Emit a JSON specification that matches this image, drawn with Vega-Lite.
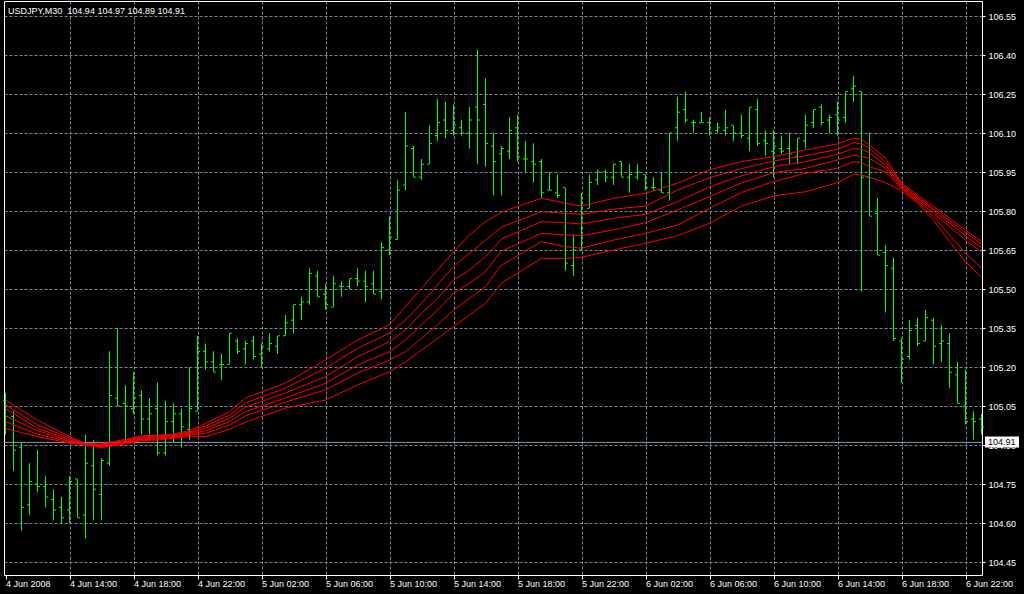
{
"$schema": "https://vega.github.io/schema/vega-lite/v6.json",
"width": 978,
"height": 574,
"autosize": {"type": "none"},
"padding": {"left": 4, "top": 1, "right": 42, "bottom": 19},
"background": "#000000",
"config": {"view": {"stroke": "#ffffff", "strokeWidth": 1, "fill": "#000000"}, "font": "Liberation Sans"},
"title": {"text": "USDJPY,M30\u00a0 104.94 104.97 104.89 104.91", "anchor": "start", "frame": "group", "orient": "none", "dy": 13, "dx": 4, "baseline": "alphabetic", "align": "left", "color": "#ffffff", "font": "Liberation Sans", "fontSize": 9, "fontWeight": "normal"},
"datasets": {
"bars": [
{"t":"2008-06-04T10:00:00Z","o":105.07,"h":105.10,"l":104.94,"c":105.01},
{"t":"2008-06-04T10:30:00Z","o":105.01,"h":105.03,"l":104.80,"c":104.88},
{"t":"2008-06-04T11:00:00Z","o":104.89,"h":104.91,"l":104.57,"c":104.66},
{"t":"2008-06-04T11:30:00Z","o":104.67,"h":104.83,"l":104.63,"c":104.76},
{"t":"2008-06-04T12:00:00Z","o":104.75,"h":104.88,"l":104.72,"c":104.74},
{"t":"2008-06-04T12:30:00Z","o":104.74,"h":104.78,"l":104.66,"c":104.70},
{"t":"2008-06-04T13:00:00Z","o":104.69,"h":104.73,"l":104.61,"c":104.65},
{"t":"2008-06-04T13:30:00Z","o":104.66,"h":104.70,"l":104.60,"c":104.62},
{"t":"2008-06-04T14:00:00Z","o":104.65,"h":104.78,"l":104.60,"c":104.76},
{"t":"2008-06-04T14:30:00Z","o":104.77,"h":104.77,"l":104.62,"c":104.62},
{"t":"2008-06-04T15:00:00Z","o":104.63,"h":104.94,"l":104.54,"c":104.83},
{"t":"2008-06-04T15:30:00Z","o":104.82,"h":104.92,"l":104.61,"c":104.73},
{"t":"2008-06-04T16:00:00Z","o":104.71,"h":104.85,"l":104.61,"c":104.84},
{"t":"2008-06-04T16:30:00Z","o":104.83,"h":105.26,"l":104.82,"c":105.09},
{"t":"2008-06-04T17:00:00Z","o":105.08,"h":105.35,"l":105.05,"c":105.05},
{"t":"2008-06-04T17:30:00Z","o":105.06,"h":105.13,"l":104.91,"c":105.05},
{"t":"2008-06-04T18:00:00Z","o":105.04,"h":105.18,"l":105.02,"c":105.08},
{"t":"2008-06-04T18:30:00Z","o":105.09,"h":105.11,"l":104.94,"c":105.00},
{"t":"2008-06-04T19:00:00Z","o":105.00,"h":105.08,"l":104.94,"c":105.02},
{"t":"2008-06-04T19:30:00Z","o":105.04,"h":105.14,"l":104.86,"c":104.87},
{"t":"2008-06-04T20:00:00Z","o":104.87,"h":105.07,"l":104.86,"c":104.99},
{"t":"2008-06-04T20:30:00Z","o":104.99,"h":105.06,"l":104.91,"c":105.02},
{"t":"2008-06-04T21:00:00Z","o":105.02,"h":105.04,"l":104.89,"c":104.97},
{"t":"2008-06-04T21:30:00Z","o":104.96,"h":105.20,"l":104.92,"c":105.04},
{"t":"2008-06-04T22:00:00Z","o":105.03,"h":105.32,"l":105.03,"c":105.26},
{"t":"2008-06-04T22:30:00Z","o":105.26,"h":105.29,"l":105.19,"c":105.22},
{"t":"2008-06-04T23:00:00Z","o":105.22,"h":105.26,"l":105.18,"c":105.18},
{"t":"2008-06-04T23:30:00Z","o":105.21,"h":105.25,"l":105.15,"c":105.21},
{"t":"2008-06-05T00:00:00Z","o":105.21,"h":105.33,"l":105.21,"c":105.33},
{"t":"2008-06-05T00:30:00Z","o":105.30,"h":105.31,"l":105.25,"c":105.26},
{"t":"2008-06-05T01:00:00Z","o":105.27,"h":105.30,"l":105.21,"c":105.29},
{"t":"2008-06-05T01:30:00Z","o":105.30,"h":105.32,"l":105.23,"c":105.24},
{"t":"2008-06-05T02:00:00Z","o":105.25,"h":105.29,"l":105.20,"c":105.28},
{"t":"2008-06-05T02:30:00Z","o":105.27,"h":105.33,"l":105.26,"c":105.29},
{"t":"2008-06-05T03:00:00Z","o":105.28,"h":105.32,"l":105.25,"c":105.32},
{"t":"2008-06-05T03:30:00Z","o":105.32,"h":105.40,"l":105.32,"c":105.37},
{"t":"2008-06-05T04:00:00Z","o":105.38,"h":105.44,"l":105.33,"c":105.44},
{"t":"2008-06-05T04:30:00Z","o":105.44,"h":105.47,"l":105.38,"c":105.45},
{"t":"2008-06-05T05:00:00Z","o":105.45,"h":105.58,"l":105.44,"c":105.56},
{"t":"2008-06-05T05:30:00Z","o":105.55,"h":105.57,"l":105.47,"c":105.47},
{"t":"2008-06-05T06:00:00Z","o":105.48,"h":105.52,"l":105.42,"c":105.44},
{"t":"2008-06-05T06:30:00Z","o":105.43,"h":105.55,"l":105.43,"c":105.52},
{"t":"2008-06-05T07:00:00Z","o":105.51,"h":105.53,"l":105.47,"c":105.51},
{"t":"2008-06-05T07:30:00Z","o":105.51,"h":105.54,"l":105.50,"c":105.54},
{"t":"2008-06-05T08:00:00Z","o":105.54,"h":105.58,"l":105.51,"c":105.53},
{"t":"2008-06-05T08:30:00Z","o":105.53,"h":105.57,"l":105.45,"c":105.51},
{"t":"2008-06-05T09:00:00Z","o":105.52,"h":105.57,"l":105.48,"c":105.48},
{"t":"2008-06-05T09:30:00Z","o":105.49,"h":105.68,"l":105.46,"c":105.66},
{"t":"2008-06-05T10:00:00Z","o":105.65,"h":105.78,"l":105.63,"c":105.70},
{"t":"2008-06-05T10:30:00Z","o":105.69,"h":105.92,"l":105.69,"c":105.88},
{"t":"2008-06-05T11:00:00Z","o":105.90,"h":106.18,"l":105.88,"c":106.05},
{"t":"2008-06-05T11:30:00Z","o":106.04,"h":106.05,"l":105.93,"c":105.93},
{"t":"2008-06-05T12:00:00Z","o":105.93,"h":106.00,"l":105.92,"c":105.98},
{"t":"2008-06-05T12:30:00Z","o":105.98,"h":106.13,"l":105.98,"c":106.06},
{"t":"2008-06-05T13:00:00Z","o":106.09,"h":106.23,"l":106.07,"c":106.14},
{"t":"2008-06-05T13:30:00Z","o":106.15,"h":106.22,"l":106.08,"c":106.11},
{"t":"2008-06-05T14:00:00Z","o":106.11,"h":106.21,"l":106.09,"c":106.13},
{"t":"2008-06-05T14:30:00Z","o":106.12,"h":106.15,"l":106.09,"c":106.10},
{"t":"2008-06-05T15:00:00Z","o":106.10,"h":106.20,"l":106.04,"c":106.15},
{"t":"2008-06-05T15:30:00Z","o":106.20,"h":106.42,"l":105.98,"c":106.15},
{"t":"2008-06-05T16:00:00Z","o":106.21,"h":106.31,"l":105.97,"c":106.06},
{"t":"2008-06-05T16:30:00Z","o":106.05,"h":106.10,"l":105.86,"c":105.99},
{"t":"2008-06-05T17:00:00Z","o":106.02,"h":106.05,"l":105.86,"c":106.04},
{"t":"2008-06-05T17:30:00Z","o":106.03,"h":106.16,"l":106.00,"c":106.11},
{"t":"2008-06-05T18:00:00Z","o":106.12,"h":106.17,"l":105.99,"c":106.01},
{"t":"2008-06-05T18:30:00Z","o":106.00,"h":106.07,"l":105.95,"c":106.00},
{"t":"2008-06-05T19:00:00Z","o":105.99,"h":106.06,"l":105.91,"c":105.98},
{"t":"2008-06-05T19:30:00Z","o":105.99,"h":106.00,"l":105.85,"c":105.87},
{"t":"2008-06-05T20:00:00Z","o":105.88,"h":105.95,"l":105.88,"c":105.88},
{"t":"2008-06-05T20:30:00Z","o":105.87,"h":105.94,"l":105.85,"c":105.86},
{"t":"2008-06-05T21:00:00Z","o":105.89,"h":105.89,"l":105.57,"c":105.60},
{"t":"2008-06-05T21:30:00Z","o":105.59,"h":105.71,"l":105.55,"c":105.65},
{"t":"2008-06-05T22:00:00Z","o":105.65,"h":105.87,"l":105.65,"c":105.79},
{"t":"2008-06-05T22:30:00Z","o":105.81,"h":105.94,"l":105.81,"c":105.91},
{"t":"2008-06-05T23:00:00Z","o":105.92,"h":105.96,"l":105.90,"c":105.95},
{"t":"2008-06-05T23:30:00Z","o":105.95,"h":105.96,"l":105.91,"c":105.93},
{"t":"2008-06-06T00:00:00Z","o":105.93,"h":105.98,"l":105.90,"c":105.98},
{"t":"2008-06-06T00:30:00Z","o":105.99,"h":105.99,"l":105.93,"c":105.93},
{"t":"2008-06-06T01:00:00Z","o":105.93,"h":105.98,"l":105.87,"c":105.94},
{"t":"2008-06-06T01:30:00Z","o":105.93,"h":105.98,"l":105.92,"c":105.95},
{"t":"2008-06-06T02:00:00Z","o":105.94,"h":105.94,"l":105.88,"c":105.89},
{"t":"2008-06-06T02:30:00Z","o":105.89,"h":105.93,"l":105.88,"c":105.89},
{"t":"2008-06-06T03:00:00Z","o":105.88,"h":105.95,"l":105.87,"c":105.87},
{"t":"2008-06-06T03:30:00Z","o":105.87,"h":106.10,"l":105.84,"c":106.10},
{"t":"2008-06-06T04:00:00Z","o":106.12,"h":106.24,"l":106.07,"c":106.18},
{"t":"2008-06-06T04:30:00Z","o":106.19,"h":106.26,"l":106.14,"c":106.15},
{"t":"2008-06-06T05:00:00Z","o":106.14,"h":106.15,"l":106.10,"c":106.14},
{"t":"2008-06-06T05:30:00Z","o":106.14,"h":106.18,"l":106.14,"c":106.14},
{"t":"2008-06-06T06:00:00Z","o":106.14,"h":106.16,"l":106.09,"c":106.10},
{"t":"2008-06-06T06:30:00Z","o":106.11,"h":106.14,"l":106.10,"c":106.12},
{"t":"2008-06-06T07:00:00Z","o":106.11,"h":106.19,"l":106.09,"c":106.12},
{"t":"2008-06-06T07:30:00Z","o":106.13,"h":106.13,"l":106.07,"c":106.10},
{"t":"2008-06-06T08:00:00Z","o":106.10,"h":106.17,"l":106.08,"c":106.09},
{"t":"2008-06-06T08:30:00Z","o":106.08,"h":106.20,"l":106.03,"c":106.20},
{"t":"2008-06-06T09:00:00Z","o":106.19,"h":106.23,"l":106.05,"c":106.06},
{"t":"2008-06-06T09:30:00Z","o":106.07,"h":106.11,"l":106.01,"c":106.06},
{"t":"2008-06-06T10:00:00Z","o":106.03,"h":106.11,"l":105.93,"c":106.05},
{"t":"2008-06-06T10:30:00Z","o":106.04,"h":106.09,"l":106.02,"c":106.03},
{"t":"2008-06-06T11:00:00Z","o":106.04,"h":106.10,"l":105.98,"c":106.02},
{"t":"2008-06-06T11:30:00Z","o":106.01,"h":106.08,"l":105.98,"c":106.08},
{"t":"2008-06-06T12:00:00Z","o":106.07,"h":106.17,"l":106.04,"c":106.13},
{"t":"2008-06-06T12:30:00Z","o":106.14,"h":106.19,"l":106.12,"c":106.19},
{"t":"2008-06-06T13:00:00Z","o":106.20,"h":106.21,"l":106.13,"c":106.14},
{"t":"2008-06-06T13:30:00Z","o":106.15,"h":106.17,"l":106.10,"c":106.16},
{"t":"2008-06-06T14:00:00Z","o":106.17,"h":106.22,"l":106.09,"c":106.15},
{"t":"2008-06-06T14:30:00Z","o":106.16,"h":106.26,"l":106.14,"c":106.26},
{"t":"2008-06-06T15:00:00Z","o":106.27,"h":106.32,"l":106.22,"c":106.28},
{"t":"2008-06-06T15:30:00Z","o":106.26,"h":106.26,"l":105.49,"c":105.93},
{"t":"2008-06-06T16:00:00Z","o":105.93,"h":106.10,"l":105.78,"c":105.78},
{"t":"2008-06-06T16:30:00Z","o":105.79,"h":105.85,"l":105.63,"c":105.63},
{"t":"2008-06-06T17:00:00Z","o":105.64,"h":105.67,"l":105.41,"c":105.59},
{"t":"2008-06-06T17:30:00Z","o":105.58,"h":105.62,"l":105.30,"c":105.31},
{"t":"2008-06-06T18:00:00Z","o":105.30,"h":105.31,"l":105.14,"c":105.23},
{"t":"2008-06-06T18:30:00Z","o":105.24,"h":105.38,"l":105.23,"c":105.34},
{"t":"2008-06-06T19:00:00Z","o":105.36,"h":105.39,"l":105.28,"c":105.29},
{"t":"2008-06-06T19:30:00Z","o":105.30,"h":105.42,"l":105.30,"c":105.39},
{"t":"2008-06-06T20:00:00Z","o":105.38,"h":105.39,"l":105.21,"c":105.28},
{"t":"2008-06-06T20:30:00Z","o":105.29,"h":105.36,"l":105.22,"c":105.30},
{"t":"2008-06-06T21:00:00Z","o":105.29,"h":105.33,"l":105.12,"c":105.18},
{"t":"2008-06-06T21:30:00Z","o":105.17,"h":105.22,"l":105.06,"c":105.06},
{"t":"2008-06-06T22:00:00Z","o":105.05,"h":105.19,"l":104.98,"c":104.99},
{"t":"2008-06-06T22:30:00Z","o":105.00,"h":105.03,"l":104.92,"c":104.99},
{"t":"2008-06-06T23:00:00Z","o":105.00,"h":105.02,"l":104.94,"c":104.97}
],
"ma": [
{"t":"2008-06-04T10:00:00Z","a":105.073,"b":105.054,"c":105.040,"d":105.012,"e":104.990,"f":104.964},
{"t":"2008-06-04T12:00:00Z","a":104.996,"b":104.977,"c":104.964,"d":104.955,"e":104.942,"f":104.932},
{"t":"2008-06-04T14:00:00Z","a":104.932,"b":104.927,"c":104.921,"d":104.915,"e":104.912,"f":104.908},
{"t":"2008-06-04T15:00:00Z","a":104.906,"b":104.904,"c":104.903,"d":104.902,"e":104.900,"f":104.899},
{"t":"2008-06-04T16:00:00Z","a":104.904,"b":104.901,"c":104.899,"d":104.896,"e":104.893,"f":104.890},
{"t":"2008-06-04T17:30:00Z","a":104.922,"b":104.918,"c":104.914,"d":104.911,"e":104.908,"f":104.904},
{"t":"2008-06-04T18:30:00Z","a":104.935,"b":104.931,"c":104.927,"d":104.923,"e":104.920,"f":104.917},
{"t":"2008-06-04T19:30:00Z","a":104.938,"b":104.935,"c":104.931,"d":104.927,"e":104.923,"f":104.919},
{"t":"2008-06-04T20:30:00Z","a":104.942,"b":104.939,"c":104.935,"d":104.932,"e":104.929,"f":104.926},
{"t":"2008-06-04T21:30:00Z","a":104.955,"b":104.950,"c":104.946,"d":104.941,"e":104.937,"f":104.932},
{"t":"2008-06-04T22:30:00Z","a":104.983,"b":104.973,"c":104.964,"d":104.955,"e":104.945,"f":104.932},
{"t":"2008-06-05T00:00:00Z","a":105.028,"b":105.015,"c":105.003,"d":104.990,"e":104.977,"f":104.960},
{"t":"2008-06-05T01:00:00Z","a":105.081,"b":105.062,"c":105.046,"d":105.029,"e":105.012,"f":104.988},
{"t":"2008-06-05T03:30:00Z","a":105.138,"b":105.119,"c":105.100,"d":105.081,"e":105.065,"f":105.042},
{"t":"2008-06-05T06:00:00Z","a":105.227,"b":105.195,"c":105.163,"d":105.137,"e":105.112,"f":105.073},
{"t":"2008-06-05T08:00:00Z","a":105.304,"b":105.272,"c":105.240,"d":105.208,"e":105.176,"f":105.131},
{"t":"2008-06-05T10:00:00Z","a":105.362,"b":105.330,"c":105.297,"d":105.259,"e":105.227,"f":105.182},
{"t":"2008-06-05T11:00:00Z","a":105.432,"b":105.381,"c":105.342,"d":105.304,"e":105.259,"f":105.220},
{"t":"2008-06-05T12:00:00Z","a":105.503,"b":105.445,"c":105.407,"d":105.362,"e":105.310,"f":105.265},
{"t":"2008-06-05T13:00:00Z","a":105.573,"b":105.515,"c":105.464,"d":105.419,"e":105.362,"f":105.310},
{"t":"2008-06-05T14:00:00Z","a":105.643,"b":105.586,"c":105.535,"d":105.483,"e":105.419,"f":105.355},
{"t":"2008-06-05T15:00:00Z","a":105.708,"b":105.637,"c":105.573,"d":105.522,"e":105.464,"f":105.400},
{"t":"2008-06-05T16:00:00Z","a":105.759,"b":105.688,"c":105.624,"d":105.567,"e":105.509,"f":105.445},
{"t":"2008-06-05T17:00:00Z","a":105.796,"b":105.738,"c":105.692,"d":105.646,"e":105.592,"f":105.523},
{"t":"2008-06-05T19:30:00Z","a":105.849,"b":105.797,"c":105.759,"d":105.714,"e":105.682,"f":105.618},
{"t":"2008-06-05T21:00:00Z","a":105.830,"b":105.791,"c":105.755,"d":105.708,"e":105.663,"f":105.618},
{"t":"2008-06-05T22:00:00Z","a":105.819,"b":105.787,"c":105.750,"d":105.705,"e":105.657,"f":105.622},
{"t":"2008-06-06T00:00:00Z","a":105.849,"b":105.807,"c":105.772,"d":105.727,"e":105.688,"f":105.650},
{"t":"2008-06-06T02:00:00Z","a":105.868,"b":105.819,"c":105.787,"d":105.755,"e":105.714,"f":105.676},
{"t":"2008-06-06T04:00:00Z","a":105.907,"b":105.881,"c":105.836,"d":105.804,"e":105.746,"f":105.705},
{"t":"2008-06-06T06:00:00Z","a":105.958,"b":105.928,"c":105.893,"d":105.855,"e":105.810,"f":105.753},
{"t":"2008-06-06T08:00:00Z","a":105.990,"b":105.963,"c":105.935,"d":105.908,"e":105.871,"f":105.819},
{"t":"2008-06-06T10:00:00Z","a":106.009,"b":105.992,"c":105.970,"d":105.947,"e":105.913,"f":105.858},
{"t":"2008-06-06T12:00:00Z","a":106.035,"b":106.013,"c":105.990,"d":105.964,"e":105.945,"f":105.874},
{"t":"2008-06-06T14:00:00Z","a":106.058,"b":106.037,"c":106.018,"d":105.996,"e":105.964,"f":105.909},
{"t":"2008-06-06T15:00:00Z","a":106.080,"b":106.063,"c":106.041,"d":106.015,"e":105.990,"f":105.941},
{"t":"2008-06-06T15:30:00Z","a":106.076,"b":106.058,"c":106.037,"d":106.009,"e":105.986,"f":105.938},
{"t":"2008-06-06T16:00:00Z","a":106.054,"b":106.041,"c":106.024,"d":106.003,"e":105.970,"f":105.930},
{"t":"2008-06-06T17:00:00Z","a":106.003,"b":105.990,"c":105.977,"d":105.964,"e":105.951,"f":105.909},
{"t":"2008-06-06T18:00:00Z","a":105.908,"b":105.902,"c":105.896,"d":105.890,"e":105.885,"f":105.878},
{"t":"2008-06-06T19:00:00Z","a":105.862,"b":105.855,"c":105.849,"d":105.842,"e":105.836,"f":105.830},
{"t":"2008-06-06T20:00:00Z","a":105.817,"b":105.808,"c":105.801,"d":105.791,"e":105.778,"f":105.765},
{"t":"2008-06-06T21:00:00Z","a":105.772,"b":105.763,"c":105.753,"d":105.740,"e":105.708,"f":105.682},
{"t":"2008-06-06T22:00:00Z","a":105.727,"b":105.717,"c":105.705,"d":105.688,"e":105.637,"f":105.605},
{"t":"2008-06-06T23:00:00Z","a":105.682,"b":105.672,"c":105.659,"d":105.643,"e":105.580,"f":105.545}
],
"bid": [{"t":"2008-06-06T23:00:00Z","bid":104.91,"label":"104.91"}]
},
"layer": [
{
"data": {"name": "bars"},
"mark": {"type": "rule", "color": "#00ff00", "strokeWidth": 1},
"encoding": {
"x": {"field": "t", "type": "temporal", "title": null,
"scale": {"type": "utc", "domain": [1212573262500, 1212793312500], "nice": false},
"axis": {"orient": "bottom", "domain": false,
"values": [1212573600000,1212580800000,1212588000000,1212595200000,1212602400000,1212609600000,1212616800000,1212624000000,1212631200000,1212638400000,1212645600000,1212652800000,1212660000000,1212667200000,1212674400000,1212681600000,1212688800000,1212696000000,1212703200000,1212710400000,1212717600000,1212724800000,1212732000000,1212739200000,1212746400000,1212753600000,1212760800000,1212768000000,1212775200000,1212782400000,1212789600000],
"grid": true, "gridColor": "#778899", "gridDash": [3,2], "gridWidth": 1,
"gridOpacity": {"condition": {"test": "utchours(datum.value)==10 && utcdate(datum.value)==4", "value": 0}, "value": 1},
"tickSize": 4, "tickColor": "#ffffff",
"tickOpacity": {"condition": {"test": "utchours(datum.value)%4==2", "value": 1}, "value": 0},
"labelExpr": "utchours(datum.value)==10 && utcdate(datum.value)==4 ? '4 Jun 2008' : (utchours(datum.value)%4==2 ? utcFormat(datum.value, '%-d %b %H:%M') : '')",
"labelAlign": "left", "labelBaseline": "top", "labelPadding": 0, "labelColor": "#ffffff", "labelFont": "Liberation Sans", "labelFontSize": 9, "labelOverlap": false, "labelFlush": false, "labelBound": false}},
"y": {"field": "l", "type": "quantitative", "title": null,
"scale": {"domain": [104.40, 106.6077], "nice": false, "zero": false},
"axis": {"orient": "right", "domain": false, "values": [104.45,104.6,104.75,104.9,105.05,105.2,105.35,105.5,105.65,105.8,105.95,106.1,106.25,106.4,106.55], "format": ".2f", "grid": true, "gridColor": "#778899", "gridDash": [3,2], "gridWidth": 1, "tickSize": 3, "tickColor": "#ffffff", "labelPadding": 3, "labelColor": "#ffffff", "labelFont": "Liberation Sans", "labelFontSize": 9, "labelOverlap": false, "labelFlush": false, "labelBound": false, "labelBaseline": "middle"}},
"y2": {"field": "h"}
}
},
{
"data": {"name": "bid"},
"mark": {"type": "rule", "color": "#8a99a8", "strokeWidth": 1},
"encoding": {
"y": {"field": "bid", "type": "quantitative", "title": null}
}
},
{
"data": {"name": "bars"},
"mark": {"type": "rule", "color": "#00ff00", "strokeWidth": 1, "xOffset": -0.5, "x2Offset": -2.5},
"encoding": {
"x": {"field": "t", "type": "temporal", "title": null},
"x2": {"field": "t"},
"y": {"field": "o", "type": "quantitative", "title": null}
}
},
{
"data": {"name": "bars"},
"mark": {"type": "rule", "color": "#00ff00", "strokeWidth": 1, "xOffset": 0.5, "x2Offset": 2.5},
"encoding": {
"x": {"field": "t", "type": "temporal", "title": null},
"x2": {"field": "t"},
"y": {"field": "c", "type": "quantitative", "title": null}
}
},
{
"data": {"name": "ma"},
"transform": [{"fold": ["a","b","c","d","e","f"], "as": ["k","v"]}],
"mark": {"type": "line", "color": "#ff0000", "strokeWidth": 1},
"encoding": {
"x": {"field": "t", "type": "temporal", "title": null},
"y": {"field": "v", "type": "quantitative", "title": null},
"detail": {"field": "k", "type": "nominal"}
}
},
{
"data": {"name": "bid"},
"mark": {"type": "rect", "color": "#ffffff", "xOffset": 3.5, "x2Offset": 37.5, "yOffset": -6, "y2Offset": 5},
"encoding": {
"x": {"field": "t", "type": "temporal", "title": null},
"x2": {"field": "t"},
"y": {"field": "bid", "type": "quantitative", "title": null},
"y2": {"field": "bid"}
}
},
{
"data": {"name": "bid"},
"mark": {"type": "text", "color": "#000000", "align": "left", "baseline": "middle", "dx": 6.5, "font": "Liberation Sans", "fontSize": 9},
"encoding": {
"x": {"field": "t", "type": "temporal", "title": null},
"y": {"field": "bid", "type": "quantitative", "title": null},
"text": {"field": "label"}
}
}
]
}
